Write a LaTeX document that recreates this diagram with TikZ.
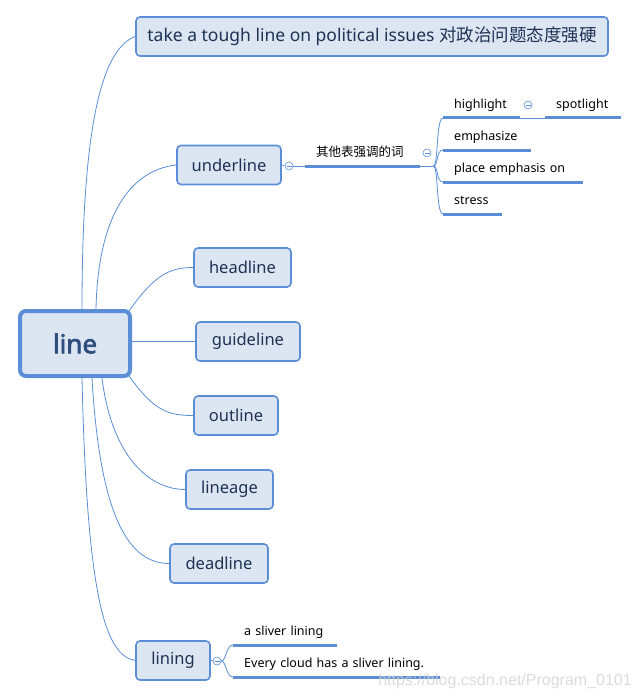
\documentclass[tikz,border=0pt]{standalone}
\usepackage{fontspec}
\setmainfont{Noto Sans}
\newfontfamily\cjk{Noto Sans CJK SC}
\newfontfamily\rootfont[FakeBold=2.5]{Noto Sans}
\newfontfamily\markfont{Liberation Sans}
\usepackage{xcolor}
\usetikzlibrary{calc}
\definecolor{mapblue}{HTML}{5B8ED6}
\definecolor{mapfill}{HTML}{DCE6F2}
\definecolor{maptext}{HTML}{1F3254}
\definecolor{rootblue}{HTML}{2E4E7E}
\tikzset{
  rootbox/.style={draw=mapblue, line width=4pt, rounded corners=6pt, fill=mapfill, minimum width=110pt, minimum height=65pt, font=\rootfont\fontsize{26}{30}\selectfont, text=rootblue},
  topic/.style={draw=mapblue, line width=1.6pt, rounded corners=4pt, fill=mapfill, minimum height=39pt, inner xsep=0pt, font=\fontsize{16.5}{19}\selectfont, text=maptext},
  leaf/.style={anchor=south west, inner xsep=11pt, inner ysep=6pt, text depth=3pt, align=left, font=\fontsize{12.5}{15}\selectfont},
  bar/.style={draw=mapblue, line width=3pt},
  link/.style={draw=mapblue, line width=0.8pt},
  fold/.style={circle, draw=mapblue, fill=white, line width=0.6pt, minimum size=8pt, inner sep=0pt,
    path picture={\draw[mapblue, line width=0.6pt] ([xshift=-2.5pt]path picture bounding box.center) -- ([xshift=2.5pt]path picture bounding box.center);}}
}

\begin{document}
\begin{tikzpicture}[x=1pt, y=-1pt]
  \useasboundingbox (0,0) rectangle (639,698);
  % central topic and main branches
  \node[rootbox] (root) at (75,343.5) {line};
  \node[topic, minimum width=472pt, font=\fontsize{17.5}{20}\selectfont] (top) at (372,36.5) {take a tough line on political issues {\cjk 对政治问题态度强硬}};
  \node[topic, minimum width=104pt] (ul) at (229,165) {underline};
  \node[topic, minimum width=97pt] (hd) at (242.5,267.5) {headline};
  \node[topic, minimum width=104pt] (gd) at (248,341.5) {guideline};
  \node[topic, minimum width=84pt] (ol) at (236,415.5) {outline};
  \node[topic, minimum width=87pt] (lg) at (229.5,489.5) {lineage};
  \node[topic, minimum width=98pt] (dl) at (219,563.5) {deadline};
  \node[topic, minimum width=74pt] (ln) at (173,660.5) {lining};

  \draw[link] ([xshift=7pt]root.north) .. controls +(0,-190) and +(-32,12) .. (top.west);
  \draw[link] ([xshift=21pt]root.north) .. controls +(2,-95) and +(-45,5) .. (ul.west);
  \draw[link] ([xshift=-3pt,yshift=-2pt]root.north east) .. controls +(25,-35) and +(-25,0) .. (hd.west);
  \draw[link] (root.east |- gd.west) -- (gd.west);
  \draw[link] ([xshift=-3pt,yshift=2pt]root.south east) .. controls +(25,35) and +(-25,0) .. (ol.west);
  \draw[link] ([xshift=27pt]root.south) .. controls +(10,80) and +(-35,0) .. (lg.west);
  \draw[link] ([xshift=17pt]root.south) .. controls +(8,140) and +(-40,0) .. (dl.west);
  \draw[link] ([xshift=7pt]root.south) .. controls +(5,220) and +(-30,-5) .. (ln.west);

  % underline subtree
  \node[fold] (f1) at (289,166) {};
  \node[leaf, text width=93pt, font=\fontsize{12.5}{15}\selectfont\cjk] (cn) at (305,166) {其他表强调的词};
  \node[fold] (f2) at (427,153) {};
  \coordinate (j1) at ($(cn.south east)+(13,0)$);
  \node[leaf, text width=55pt] (hl) at (443,118) {highlight};
  \node[leaf, text width=66pt] (em) at (443,150) {emphasize};
  \node[leaf, text width=118pt] (pe) at (443,182) {place emphasis on};
  \node[leaf, text width=37pt] (st) at (443,214) {stress};
  \node[fold] (f3) at (528,105) {};
  \node[leaf, text width=54pt] (sp) at (545,118) {spotlight};

  \draw[link] (ul.east) -- (f1);
  \draw[link] (f1) -- (cn.south west);
  \draw[link] (cn.south east) -- (j1);
  \foreach \n in {hl,em,pe,st}
    \draw[link] (j1) .. controls +(5,0) and +(-7,0) .. (\n.south west);
  \draw[link] (hl.south east) -- (sp.south west);
  \foreach \n in {cn,hl,em,pe,st,sp}
    \draw[bar] (\n.south west) -- (\n.south east);

  % lining subtree
  \node[fold] (f4) at (217,661) {};
  \node[leaf, text width=82pt] (sl) at (233,645) {a sliver lining};
  \node[leaf, text width=185pt] (ec) at (233,677) {Every cloud has a sliver lining.};
  \draw[link] (ln.east) -- (f4);
  \foreach \n in {sl,ec}
    \draw[link] (f4.east) .. controls +(5,0) and +(-7,0) .. (\n.south west);
  \foreach \n in {sl,ec}
    \draw[bar] (\n.south west) -- (\n.south east);

  \node[font=\fontsize{16}{19}\selectfont\markfont, text=gray!35, opacity=0.8] (mark) at (505,681) {https://blog.csdn.net/Program\_0101};
\end{tikzpicture}
\end{document}
